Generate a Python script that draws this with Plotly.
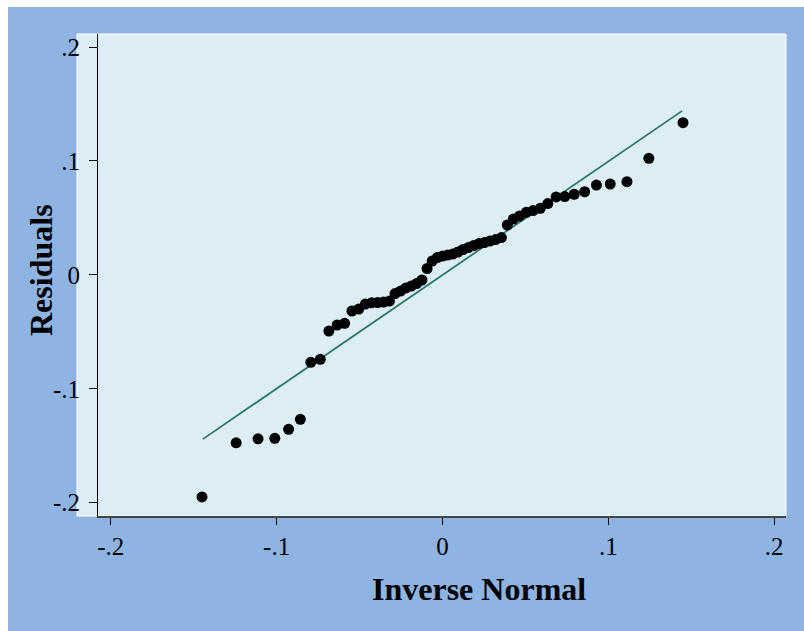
import plotly.graph_objects as go

# Inverse normal quantiles (x) and sorted residuals (y)
inv_normal = [-0.1450, -0.1244, -0.1112, -0.1011, -0.0928, -0.0857, -0.0794, -0.0737,
              -0.0685, -0.0635, -0.0590, -0.0546, -0.0505, -0.0465, -0.0427, -0.0391,
              -0.0355, -0.0320, -0.0286, -0.0253, -0.0220, -0.0188, -0.0156, -0.0124,
              -0.0093, -0.0062, -0.0031, 0.0000, 0.0031, 0.0062, 0.0093, 0.0124,
              0.0156, 0.0188, 0.0220, 0.0253, 0.0286, 0.0320, 0.0355, 0.0391,
              0.0427, 0.0465, 0.0505, 0.0546, 0.0590, 0.0635, 0.0685, 0.0737,
              0.0794, 0.0857, 0.0928, 0.1011, 0.1112, 0.1244, 0.1450]
residuals = [-0.1950, -0.1474, -0.1439, -0.1435, -0.1356, -0.1268, -0.0768, -0.0741,
             -0.0493, -0.0440, -0.0425, -0.0317, -0.0300, -0.0256, -0.0245, -0.0243,
             -0.0238, -0.0230, -0.0164, -0.0142, -0.0115, -0.0098, -0.0076, -0.0045,
             0.0056, 0.0122, 0.0152, 0.0165, 0.0174, 0.0183, 0.0201, 0.0223,
             0.0240, 0.0258, 0.0275, 0.0284, 0.0297, 0.0310, 0.0328, 0.0438,
             0.0490, 0.0517, 0.0549, 0.0565, 0.0584, 0.0626, 0.0684, 0.0688,
             0.0708, 0.0730, 0.0789, 0.0798, 0.0818, 0.1023, 0.1336]

# Reference line
line_x = [-0.1445, 0.1445]
line_y = [-0.1442, 0.1440]

# Ticks
x_tickvals = [-0.2, -0.1, 0, 0.1, 0.2]
x_ticktext = ["-.2", "-.1", "0", ".1", ".2"]
y_tickvals = [-0.2, -0.1, 0, 0.1, 0.2]
y_ticktext = ["-.2", "-.1", "0", ".1", ".2"]

BLUE = "#8eb4e3"
LIGHT = "#dcedf3"
SERIF = "Liberation Serif, Times New Roman, serif"

fig = go.Figure()
fig.add_trace(go.Scatter(x=line_x, y=line_y, mode="lines",
                         line=dict(color="#2b7868", width=1.8),
                         hoverinfo="skip", showlegend=False))
fig.add_trace(go.Scatter(x=inv_normal, y=residuals, mode="markers",
                         marker=dict(color="black", size=11, line=dict(width=0)),
                         showlegend=False))

W, H = 804, 631
L, R, T, B = 98, 786, 34, 516
pw, ph = R - L, B - T

def px(xp):
    return (xp - L) / pw

def py(yp):
    return (B - yp) / ph

fig.update_layout(
    width=W, height=H,
    margin=dict(l=L, r=W - R, t=T, b=H - B, pad=0),
    paper_bgcolor="white",
    plot_bgcolor="rgba(0,0,0,0)",
    font=dict(family=SERIF, color="black"),
    shapes=[
        dict(type="rect", xref="paper", yref="paper", layer="below",
             x0=px(8), x1=px(804), y0=py(631), y1=py(7),
             fillcolor=BLUE, line=dict(width=0)),
        dict(type="rect", xref="paper", yref="paper", layer="below",
             x0=px(77), x1=px(786), y0=py(516), y1=py(34),
             fillcolor=LIGHT, line=dict(width=1, color="white")),
    ],
    xaxis=dict(range=[-0.2077, 0.2071], tickvals=x_tickvals, ticktext=x_ticktext,
               showgrid=False, zeroline=False, showline=True, linecolor="#444444",
               linewidth=1.5, ticks="outside", ticklen=7, tickcolor="black", tickwidth=1,
               tickfont=dict(family=SERIF, size=25, color="black")),
    yaxis=dict(range=[-0.2117, 0.2115], tickvals=y_tickvals, ticktext=y_ticktext,
               showgrid=False, zeroline=False, showline=True, linecolor="black",
               linewidth=1, ticks="outside", ticklen=8, tickcolor="black", tickwidth=1,
               ticklabelstandoff=4,
               tickfont=dict(family=SERIF, size=25, color="black")),
    annotations=[
        dict(text="<b>Inverse Normal</b>", xref="paper", yref="paper",
             x=px(479), y=py(589), xanchor="center", yanchor="middle",
             showarrow=False, font=dict(family=SERIF, size=32, color="black")),
        dict(text="<b>Residuals</b>", xref="paper", yref="paper",
             x=px(41), y=py(270), xanchor="center", yanchor="middle", textangle=-90,
             showarrow=False, font=dict(family=SERIF, size=32, color="black")),
    ],
)

fig.write_html("out.html")
